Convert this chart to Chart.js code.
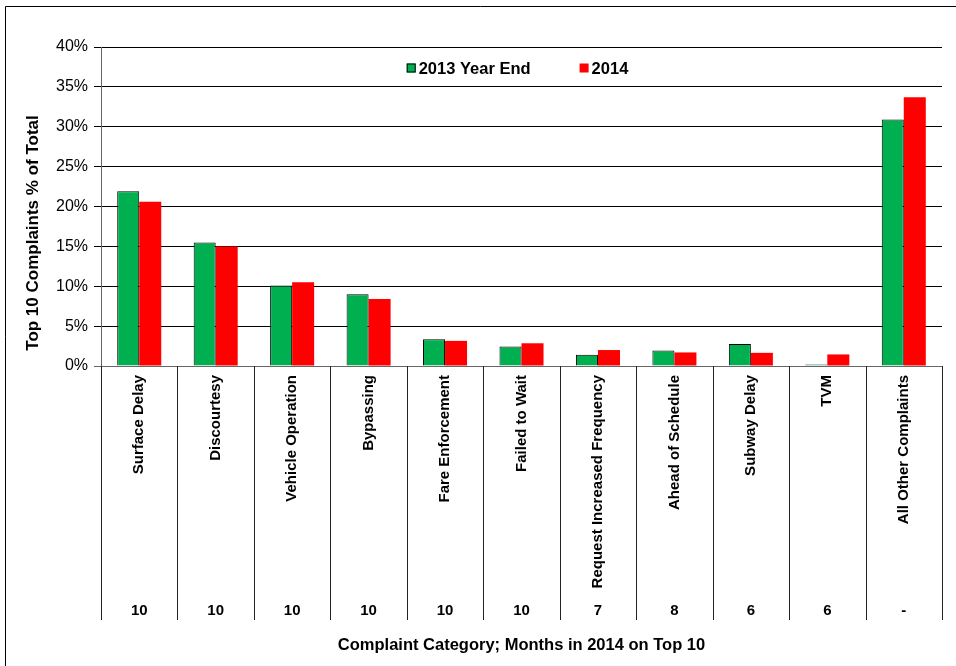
<!DOCTYPE html>
<html lang="en">
<head>
    <meta charset="UTF-8">
    <title>Top 10 Complaints</title>
    <script src="https://cdn.jsdelivr.net/npm/chart.js"></script>
    <style>
        body {
            margin: 0;
            background: #ffffff;
        }

        #wrap {
            position: relative;
            width: 956px;
            height: 666px;
        }
    </style>
</head>
<body>
    <div id="wrap">
        <canvas id="chart" width="956" height="666"></canvas>
    </div>

    <script>
        // categories and values (% of total complaints)
        const categories = ['Surface Delay', 'Discourtesy', 'Vehicle Operation', 'Bypassing', 'Fare Enforcement',
            'Failed to Wait', 'Request Increased Frequency', 'Ahead of Schedule', 'Subway Delay', 'TVM',
            'All Other Complaints'];
        const monthsOnTop10 = ['10', '10', '10', '10', '10', '10', '7', '8', '6', '6', '-'];
        const yearEnd2013 = [21.9, 15.5, 10.1, 9.0, 3.35, 2.45, 1.4, 1.95, 2.75, 0.2, 30.9];
        const year2014 = [20.6, 15.0, 10.5, 8.4, 3.15, 2.85, 2.0, 1.7, 1.65, 1.45, 33.7];
        const seriesNames = ['2013 Year End', '2014'];
        const yTicks = [0, 5, 10, 15, 20, 25, 30, 35, 40];

        const FONT = 'Arial, "Liberation Sans", sans-serif';
        Chart.defaults.font.family = FONT;
        Chart.defaults.color = '#000';

        // outer frame of the chart object
        const framePlugin = {
            id: 'frame',
            beforeDraw(chart) {
                const c = chart.ctx;
                c.save();
                c.strokeStyle = '#000';
                c.lineWidth = 1;
                c.beginPath();
                c.moveTo(5.5, chart.height);
                c.lineTo(5.5, 6.5);
                c.lineTo(chart.width, 6.5);
                c.stroke();
                c.restore();
            }
        };

        // vertical separators between the category label columns
        const separatorPlugin = {
            id: 'separators',
            afterDraw(chart) {
                const x = chart.scales.x;
                const x2 = chart.scales.x2;
                const area = chart.chartArea;
                const n = categories.length;
                const c = chart.ctx;
                c.save();
                c.strokeStyle = '#222';
                c.lineWidth = 1;
                for (let i = 0; i <= n; i++) {
                    let px;
                    if (i === 0) px = area.left;
                    else if (i === n) px = area.right;
                    else px = (x.getPixelForValue(i - 1) + x.getPixelForValue(i)) / 2;
                    px = Math.round(px) + 0.5;
                    c.beginPath();
                    c.moveTo(px, area.bottom);
                    c.lineTo(px, x2.top + 22);
                    c.stroke();
                }
                c.restore();
            }
        };

        // legend drawn inside the plot, and the rotated y axis title
        const insideLegendPlugin = {
            id: 'insideLegend',
            afterDraw(chart) {
                const c = chart.ctx;
                const area = chart.chartArea;
                c.save();
                c.font = 'bold 16.5px ' + FONT;
                c.textBaseline = 'middle';
                c.textAlign = 'left';
                const box = 9, gap = 3, itemGap = 49;
                const widths = seriesNames.map(s => c.measureText(s).width);
                const total = widths.reduce((a, w) => a + box + gap + w, 0) + itemGap * (seriesNames.length - 1);
                let lx = (area.left + area.right) / 2 - total / 2 - 4;
                const ly = area.top + 21;
                chart.data.datasets.forEach((ds, i) => {
                    c.fillStyle = ds.backgroundColor;
                    c.fillRect(lx, ly - box / 2, box, box);
                    if (ds.borderWidth) {
                        c.strokeStyle = '#000';
                        c.lineWidth = 1;
                        c.strokeRect(lx + 0.5, ly - box / 2 + 0.5, box - 1, box - 1);
                    }
                    c.fillStyle = '#000';
                    c.fillText(seriesNames[i], lx + box + gap, ly + 1);
                    lx += box + gap + widths[i] + itemGap;
                });

                c.font = 'bold 17px ' + FONT;
                c.textAlign = 'center';
                c.translate(33, 233);
                c.rotate(-Math.PI / 2);
                c.fillText('Top 10 Complaints % of Total', 0, 0);
                c.restore();
            }
        };

        const chart = new Chart(document.getElementById('chart'), {
            type: 'bar',
            data: {
                labels: categories,
                datasets: [{
                    label: seriesNames[0],
                    data: yearEnd2013,
                    backgroundColor: '#00B050',
                    borderColor: '#000',
                    borderWidth: 1
                }, {
                    label: seriesNames[1],
                    data: year2014,
                    backgroundColor: '#FF0000',
                    borderWidth: 0
                }]
            },
            options: {
                responsive: false,
                animation: false,
                categoryPercentage: 0.576,
                barPercentage: 1,
                layout: {
                    padding: { left: 0, top: 47, right: 14, bottom: 6 }
                },
                plugins: {
                    legend: { display: false },
                    tooltip: { enabled: false }
                },
                scales: {
                    x: {
                        position: 'bottom',
                        weight: 0,
                        grid: { display: false, drawTicks: false },
                        border: { display: true, color: '#666' },
                        ticks: {
                            autoSkip: false,
                            minRotation: 90,
                            maxRotation: 90,
                            padding: 9,
                            font: { size: 15, weight: 'bold' }
                        },
                        afterFit(scale) { scale.height = 232; }
                    },
                    x2: {
                        type: 'category',
                        position: 'bottom',
                        weight: 1,
                        labels: monthsOnTop10,
                        offset: true,
                        grid: { display: false, drawTicks: false },
                        border: { display: false },
                        ticks: {
                            autoSkip: false,
                            maxRotation: 0,
                            padding: 4,
                            font: { size: 15, weight: 'bold' }
                        },
                        title: {
                            display: true,
                            text: 'Complaint Category; Months in 2014 on Top 10',
                            font: { size: 16.5, weight: 'bold' },
                            padding: { top: 0, bottom: 5 }
                        },
                        afterFit(scale) { scale.height = 62; }
                    },
                    y: {
                        min: 0,
                        max: 40,
                        afterBuildTicks(scale) {
                            scale.ticks = yTicks.map(v => ({ value: v }));
                        },
                        grid: {
                            color: ctx => ctx.tick && ctx.tick.value === 0 ? '#666' : '#000',
                            tickLength: 7
                        },
                        border: { color: '#666' },
                        ticks: {
                            padding: 6,
                            font: { size: 16 },
                            callback: v => v + '%'
                        },
                        afterFit(scale) { scale.width = 101; }
                    }
                }
            },
            plugins: [framePlugin, separatorPlugin, insideLegendPlugin]
        });
    </script>
</body>
</html>
